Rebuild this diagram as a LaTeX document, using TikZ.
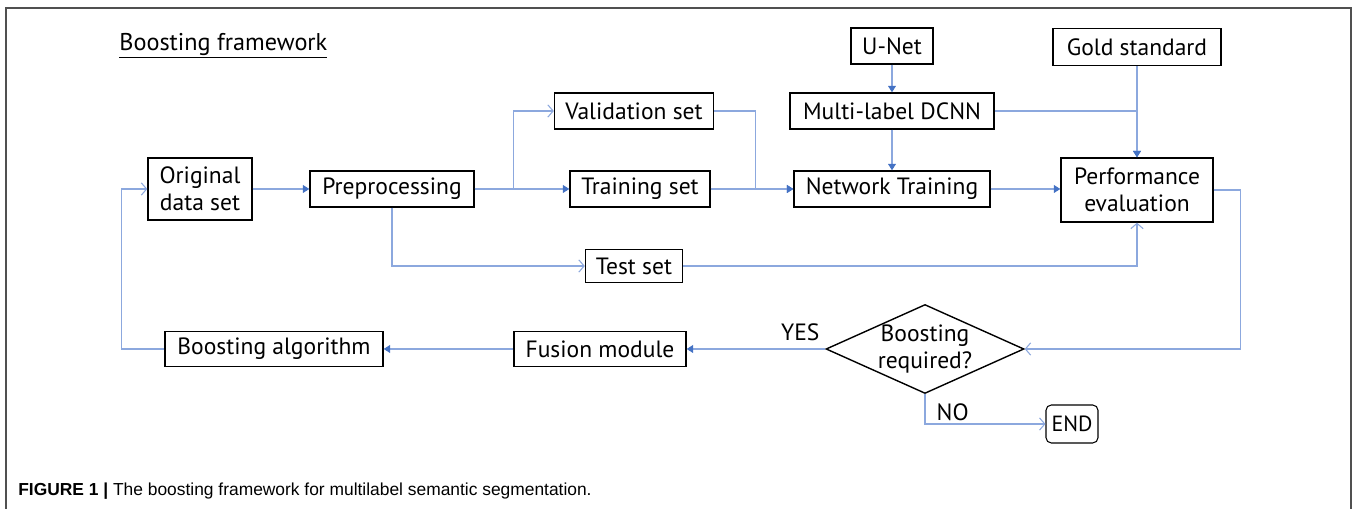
\documentclass[tikz,border=0pt]{standalone}
\usepackage{fontspec}
\setmainfont{PT Sans}
\newfontfamily\capfont{Liberation Sans}
\usetikzlibrary{arrows.meta,shapes.geometric}
\definecolor{lineblue}{RGB}{140,168,222}
\definecolor{tipblue}{RGB}{68,114,196}
\definecolor{framegray}{RGB}{80,80,80}

\begin{document}
\begin{tikzpicture}[x=0.02cm,y=-0.02cm,font=\fontsize{13.4}{15.5}\selectfont,
  box/.style={draw,line width=0.8pt,inner sep=0pt,align=center},
  fline/.style={draw=lineblue,line width=0.6pt,-{Triangle[length=3.6pt,width=4.4pt,color=tipblue]}},
  oline/.style={draw=lineblue,line width=0.6pt,-{Straight Barb[length=3pt,width=7pt,color=lineblue]}}]
 \useasboundingbox (0,0) rectangle (1357,509);
 \draw[framegray,line width=0.7pt] (6,512) |- (1351,8) -- (1351,512);
 \node[anchor=west,inner sep=0pt,font=\fontsize{13.8}{15}\selectfont] (title) at (119,46) {\underline{Boosting framework}};
 % first row
 \node[box,minimum width=2.08cm,minimum height=1.24cm] (orig) at (200,189) {Original\\data set};
 \node[box,minimum width=3.28cm,minimum height=0.72cm] (prep) at (392,189) {Preprocessing};
 \node[box,minimum width=3.18cm,minimum height=0.72cm] (valid) at (634,111) {Validation set};
 \node[box,minimum width=2.8cm,minimum height=0.72cm] (train) at (640,189) {Training set};
 \node[box,minimum width=1.94cm,minimum height=0.66cm] (test) at (634,266) {Test set};
 \node[box,minimum width=1.64cm,minimum height=0.72cm] (unet) at (892,46) {U-Net};
 \node[box,minimum width=3.36cm,minimum height=0.74cm] (gold) at (1137,47) {Gold standard};
 \node[box,minimum width=4.08cm,minimum height=0.72cm] (dcnn) at (892,111) {Multi-label DCNN};
 \node[box,minimum width=3.92cm,minimum height=0.72cm] (net) at (892,189) {Network Training};
 \node[box,minimum width=3.04cm,minimum height=1.28cm] (perf) at (1137,190) {Performance\\evaluation};
 % bottom row
 \node[box,diamond,minimum width=3.96cm,minimum height=1.78cm,
   label={[align=center]center:Boosting\\required?}] (dec) at (925,349) {};
 \node[box,minimum width=3.44cm,minimum height=0.7cm] (fuse) at (600,349) {Fusion module};
 \node[box,minimum width=4.36cm,minimum height=0.7cm] (boost) at (274,349) {Boosting algorithm};
 \node[box,rounded corners=3pt,line width=0.6pt,minimum width=1.04cm,minimum height=0.76cm,font=\fontsize{12.5}{14}\selectfont] (end) at (1072,424) {END};
 % connectors
 \draw[fline] (orig) -- (prep);
 \draw[fline] (prep) -- (train);
 \draw[oline] (prep.east) -- ++(39,0) |- (valid);
 \draw[oline] (prep.south) |- (test);
 \draw[fline] (valid.east) -- ++(41,0) |- (net);
 \draw[fline] (train) -- (net);
 \draw[fline] (unet) -- (dcnn);
 \draw[fline] (dcnn) -- (net);
 \draw[fline] (dcnn.east) -| (perf.north);
 \draw[fline] (gold) -- (perf);
 \draw[fline] (net.east) -- (perf.west |- net.east);
 \draw[oline] (test.east) -| (perf.south);
 \draw[oline] (perf.east) -- ++(27,0) |- (dec.east);
 \draw[fline] (dec.west) -- node[pos=0.18,above=1pt] (yes) {YES} (fuse.east);
 \draw[fline] (fuse) -- (boost);
 \draw[oline] (boost.west) -- ++(-43,0) |- (orig.west);
 \draw[oline] (dec.south) |- node[pos=0.3,right=3pt] (no) {NO} (end.west);
 % caption
 \node[anchor=west,inner sep=0pt,font=\capfont\fontsize{9.9}{12}\selectfont] (cap) at (18,491) {\textbf{FIGURE 1 |} The boosting framework for multilabel semantic segmentation.};
\end{tikzpicture}
\end{document}
